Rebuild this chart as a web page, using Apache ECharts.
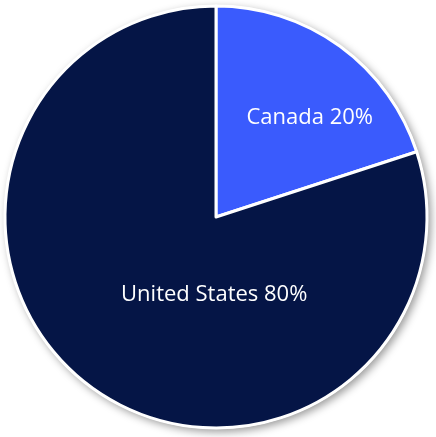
<!DOCTYPE html>
<html>
<head>
<meta charset="utf-8">
<style>
  html, body { margin: 0; padding: 0; background: #ffffff; }
  #chart { width: 436px; height: 437px; }
</style>
<script src="https://cdn.jsdelivr.net/npm/echarts@6/dist/echarts.min.js"></script>
</head>
<body>
<div id="chart"></div>
<script>
// Share of total by country
const countries = ['Canada', 'United States'];
const shares = [20, 80];
const colors = ['#3a5bfd', '#051546'];

// Per-slice nudges of the inner labels (pixels)
const labelNudge = [
  { dx: 30, dy: -11 },
  { dx: 62, dy: -10 }
];

const chart = echarts.init(document.getElementById('chart'));

const center = ['216', '217'];
const radius = 211;

chart.setOption({
  animation: false,
  series: [
    {
      // drop shadow disc behind the pie
      type: 'pie',
      silent: true,
      z: 1,
      center: center,
      radius: radius + 1,
      label: { show: false },
      labelLine: { show: false },
      data: [{ value: 1 }],
      itemStyle: {
        color: '#ffffff',
        shadowBlur: 8,
        shadowOffsetX: 3,
        shadowOffsetY: 3,
        shadowColor: 'rgba(0,0,0,0.4)'
      }
    },
    {
      type: 'pie',
      z: 2,
      center: center,
      radius: radius,
      startAngle: 90,
      clockwise: true,
      itemStyle: {
        borderColor: '#ffffff',
        borderWidth: 3
      },
      label: {
        show: true,
        position: 'inner',
        color: '#ffffff',
        fontFamily: 'Open Sans',
        fontSize: 22,
        formatter: p => p.name + ' ' + p.value + '%'
      },
      labelLine: { show: false },
      labelLayout: p => labelNudge[p.dataIndex],
      emphasis: { disabled: true },
      data: countries.map((c, i) => ({
        name: c,
        value: shares[i],
        itemStyle: { color: colors[i] }
      }))
    }
  ]
});
</script>
</body>
</html>
